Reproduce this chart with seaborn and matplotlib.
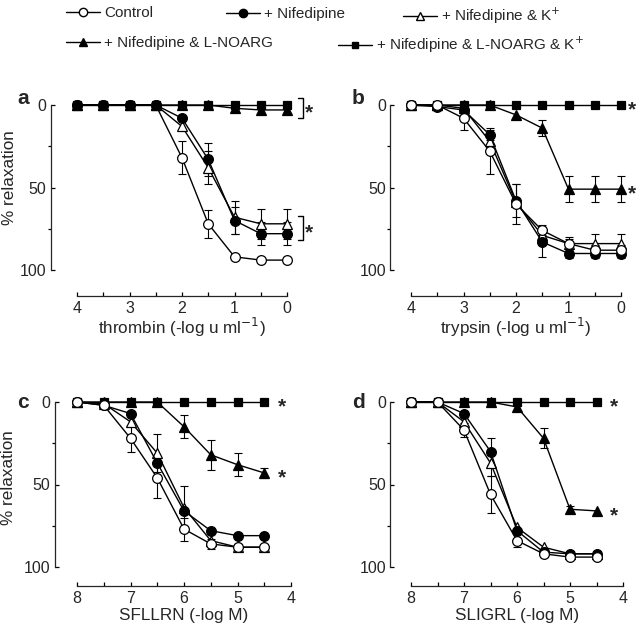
import numpy as np
import pandas as pd
import matplotlib.pyplot as plt
import seaborn as sns
from matplotlib.lines import Line2D

sns.set_theme(style='ticks')
plt.rcParams['font.family'] = ['Liberation Sans', 'DejaVu Sans']

# groups in legend order
groups = ['Control', '+ Nifedipine', '+ Nifedipine & K$^{+}$',
          '+ Nifedipine & L-NOARG', '+ Nifedipine & L-NOARG & K$^{+}$']

# x values (-log dose)
dose_ab = [4, 3.5, 3, 2.5, 2, 1.5, 1, 0.5, 0]
dose_cd = [8, 7.5, 7, 6.5, 6, 5.5, 5, 4.5]

# a: thrombin
ctrl_a = [0, 0, 0, 0, 32, 72, 92, 94, 94]
ctrl_a_err = [0, 0, 0, 0, 10, 8.5, 2, 2, 2]
nif_a = [0, 0, 0, 0, 8, 33, 70, 78, 78]
nif_a_err = [0, 0, 0, 0, 0, 10, 8, 7, 7]
nifk_a = [0, 0, 0, 0, 13, 38, 68, 72, 72]
nifk_a_err = [0, 0, 0, 0, 0, 10, 10, 9, 9]
nifl_a = [0, 0, 0, 0, 0, 0, 2, 3, 3]
nifl_a_err = [0] * 9
niflk_a = [0] * 9
niflk_a_err = [0] * 9

# b: trypsin
ctrl_b = [0, 0, 8, 28, 60, 76, 84, 88, 88]
ctrl_b_err = [0, 0, 7, 14, 12, 3, 3, 3, 3]
nif_b = [0, 1, 3, 18, 58, 83, 90, 90, 90]
nif_b_err = [0, 0, 0, 3, 10, 9, 3, 3, 3]
nifk_b = [0, 0, 2, 22, 59, 79, 84, 84, 84]
nifk_b_err = [0, 0, 0, 0, 0, 0, 4, 6, 6]
nifl_b = [0, 0, 0, 0, 6, 14, 51, 51, 51]
nifl_b_err = [0, 0, 0, 0, 0, 5, 8, 8, 8]
niflk_b = [0] * 9
niflk_b_err = [0] * 9

# c: SFLLRN
ctrl_c = [0, 2, 22, 46, 77, 86, 88, 88]
ctrl_c_err = [0, 0, 8, 12, 7, 3, 2, 2]
nif_c = [0, 2, 7, 37, 66, 78, 81, 81]
nif_c_err = [0] * 8
nifk_c = [0, 1, 12, 31, 64, 84, 88, 88]
nifk_c_err = [0, 0, 0, 11.5, 13, 0, 0, 0]
nifl_c = [0, 0, 0, 0, 15, 32, 38, 43]
nifl_c_err = [0, 0, 0, 0, 7, 9, 7, 3]
niflk_c = [0] * 8
niflk_c_err = [0] * 8

# d: SLIGRL
ctrl_d = [0, 0, 17, 56, 84, 92, 94, 94]
ctrl_d_err = [0, 0, 4, 11, 4, 2, 0, 0]
nif_d = [0, 0, 7, 30, 78, 91, 92, 92]
nif_d_err = [0, 0, 0, 8, 0, 0, 0, 0]
nifk_d = [0, 0, 12, 37, 76, 88, 92, 92]
nifk_d_err = [0, 0, 0, 8, 0, 0, 0, 0]
nifl_d = [0, 0, 0, 0, 3, 22, 65, 66]
nifl_d_err = [0, 0, 0, 0, 0, 6, 2, 0]
niflk_d = [0] * 8
niflk_d_err = [0] * 8

styles = {
    groups[0]: dict(marker='o', mfc='white', markersize=7),
    groups[1]: dict(marker='o', mfc='black', markersize=7),
    groups[2]: dict(marker='^', mfc='white', markersize=7),
    groups[3]: dict(marker='^', mfc='black', markersize=7),
    groups[4]: dict(marker='s', mfc='black', markersize=6),
}


def make_df(dose, vals, errs):
    rows = []
    for g, v, e in zip(groups, vals, errs):
        for d, y, s in zip(dose, v, e):
            rows.append((g, d, y, s))
    return pd.DataFrame(rows, columns=['group', 'dose', 'value', 'err'])


panels = [
    ('a', make_df(dose_ab, [ctrl_a, nif_a, nifk_a, nifl_a, niflk_a],
                  [ctrl_a_err, nif_a_err, nifk_a_err, nifl_a_err, niflk_a_err])),
    ('b', make_df(dose_ab, [ctrl_b, nif_b, nifk_b, nifl_b, niflk_b],
                  [ctrl_b_err, nif_b_err, nifk_b_err, nifl_b_err, niflk_b_err])),
    ('c', make_df(dose_cd, [ctrl_c, nif_c, nifk_c, nifl_c, niflk_c],
                  [ctrl_c_err, nif_c_err, nifk_c_err, nifl_c_err, niflk_c_err])),
    ('d', make_df(dose_cd, [ctrl_d, nif_d, nifk_d, nifl_d, niflk_d],
                  [ctrl_d_err, nif_d_err, nifk_d_err, nifl_d_err, niflk_d_err])),
]

W, H = 640, 631
fig = plt.figure(figsize=(6.4, 6.31), dpi=100)

# axes boxes in pixels: left, top, width, bottom
boxes = {'a': (77, 105, 210, 270), 'b': (411, 105, 210, 270),
         'c': (77, 402, 214, 567), 'd': (411, 402, 212, 567)}
offsets = {'a': (19, 19), 'b': (15, 19), 'c': (16, 14), 'd': (15, 14)}
xlabels = {'a': 'thrombin (-log u ml$^{-1}$)', 'b': 'trypsin (-log u ml$^{-1}$)',
           'c': 'SFLLRN (-log M)', 'd': 'SLIGRL (-log M)'}
xlab_y = {'a': -0.28, 'b': -0.28, 'c': -0.25, 'd': -0.25}
ylab_y = {'a': 0.56, 'c': 0.54}
letter_pos = {'a': (17, 98), 'b': (352, 98), 'c': (17, 402), 'd': (352, 402)}
# squares sit on top in panel a, open circles on top elsewhere
draw_orders = {'a': [3, 2, 1, 0, 4], 'b': [4, 3, 2, 1, 0],
               'c': [4, 3, 2, 1, 0], 'd': [4, 3, 2, 1, 0]}

for name, df in panels:
    l, t, w, b = boxes[name]
    ax = fig.add_axes([l / W, 1 - b / H, w / W, (b - t) / H])
    for gi in draw_orders[name]:
        g = groups[gi]
        sub = df[df['group'] == g]
        sns.lineplot(data=sub, x='dose', y='value', ax=ax, color='black',
                     linewidth=1, mec='black', mew=0.9, clip_on=False,
                     sort=False, estimator=None, legend=False, **styles[g])
        se = sub[sub['err'] > 0]
        ax.errorbar(se['dose'], se['value'], yerr=se['err'], fmt='none',
                    ecolor='black', elinewidth=0.8, capsize=3, capthick=0.8,
                    clip_on=False, zorder=1)
    if name in 'ab':
        ax.set_xlim(4, 0)
        ax.set_xticks([4, 3, 2, 1, 0])
        ax.set_xticks(np.arange(0, 4.01, 0.5), minor=True)
    else:
        ax.set_xlim(8, 4)
        ax.set_xticks([8, 7, 6, 5, 4])
        ax.set_xticks(np.arange(4, 8.01, 0.5), minor=True)
    ax.set_ylim(100, 0)
    ax.set_yticks([0, 50, 100])
    ax.set_yticks([25, 75], minor=True)
    for s in ['top', 'right']:
        ax.spines[s].set_visible(False)
    ox, oy = offsets[name]
    ax.spines['left'].set_position(('outward', ox))
    ax.spines['bottom'].set_position(('outward', oy))
    ax.spines['left'].set_bounds(0, 100)
    ax.spines['left'].set_linewidth(0.9)
    ax.spines['bottom'].set_linewidth(0.9)
    ax.tick_params(axis='both', which='both', direction='in', length=3,
                   width=0.9, labelsize=11.5, color='black', pad=3)
    ax.tick_params(axis='y', which='minor', direction='out', length=2)
    ax.set_xlabel(xlabels[name], fontsize=12.3)
    ax.xaxis.set_label_coords(0.5, xlab_y[name])
    if name in 'ac':
        ax.set_ylabel('% relaxation', fontsize=12.3)
        ax.yaxis.set_label_coords(-0.285, ylab_y[name])
    else:
        ax.set_ylabel('')
    ax.patch.set_alpha(0)
    lx, ly = letter_pos[name]
    fig.text(lx / W, 1 - ly / H, name, fontsize=15, fontweight='bold',
             va='center', ha='left')

    # significance marks
    star_kw = dict(fontsize=15, ha='left', va='center', fontweight='bold')
    if name == 'a':
        for y0, y1 in [(-4, 8), (67, 82)]:
            ax.plot([-0.2, -0.3, -0.3, -0.2], [y0, y0, y1, y1], color='black',
                    linewidth=1, clip_on=False)
            ax.text(-0.34, (y0 + y1) / 2 + 3, '*', **star_kw)
    elif name == 'b':
        for y in [0, 51]:
            ax.text(-0.13, y + 3, '*', **star_kw)
    elif name == 'c':
        for y in [0, 43]:
            ax.text(4.25, y + 3, '*', **star_kw)
    else:
        for y in [0, 66]:
            ax.text(4.25, y + 3, '*', **star_kw)

# legend entries placed individually
leg_pos = [(66, 13), (226, 14), (403, 16), (66, 43), (338, 45)]
for g, (px, py) in zip(groups, leg_pos):
    st = styles[g]
    h = Line2D([], [], color='black', linewidth=1, marker=st['marker'],
               mfc=st['mfc'], mec='black', markersize=st['markersize'] - 1)
    fig.legend([h], [g], loc='center left', bbox_to_anchor=(px / W, 1 - py / H),
               frameon=False, fontsize=11, handlelength=2.2, handletextpad=0.3,
               borderpad=0, borderaxespad=0)

fig.savefig('out.png', dpi=100)
